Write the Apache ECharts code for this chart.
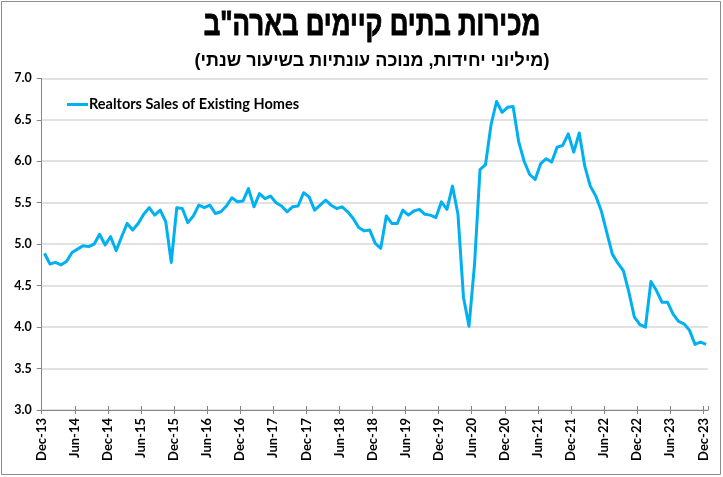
<!DOCTYPE html>
<html>
<head>
<meta charset="utf-8">
<script src="https://cdn.jsdelivr.net/npm/echarts@6/dist/echarts.min.js"></script>
<style>
html,body{margin:0;padding:0;background:#fff;}
#chart{width:723px;height:477px;}
</style>
</head>
<body>
<div id="chart"></div>
<script>
// Monthly, Dec-13 .. Dec-23 (millions, SAAR)
const startMonth = 'Dec-13';
const salesValues = [
  4.89,
  4.76,4.78,4.75,4.79,4.90,4.94,4.98,4.97,5.00,5.12,4.99,5.09,
  4.92,5.09,5.25,5.17,5.25,5.36,5.44,5.35,5.41,5.27,4.78,5.44,
  5.43,5.26,5.34,5.47,5.44,5.47,5.37,5.39,5.46,5.56,5.51,5.52,
  5.67,5.45,5.61,5.55,5.58,5.50,5.46,5.39,5.45,5.46,5.62,5.57,
  5.41,5.47,5.53,5.47,5.43,5.45,5.39,5.31,5.20,5.16,5.17,5.01,
  4.95,5.34,5.25,5.25,5.41,5.35,5.40,5.42,5.36,5.35,5.32,5.51,
  5.42,5.70,5.36,4.36,4.01,4.75,5.90,5.96,6.44,6.72,6.59,6.65,
  6.66,6.24,6.00,5.84,5.78,5.97,6.03,5.99,6.17,6.19,6.33,6.11,
  6.34,5.94,5.70,5.58,5.40,5.14,4.88,4.77,4.68,4.42,4.12,4.03,
  4.00,4.55,4.44,4.30,4.30,4.16,4.07,4.04,3.96,3.79,3.82,3.79
];
const tickLabels = ['Dec-13','Jun-14','Dec-14','Jun-15','Dec-15','Jun-16','Dec-16','Jun-17','Dec-17','Jun-18',
  'Dec-18','Jun-19','Dec-19','Jun-20','Dec-20','Jun-21','Dec-21','Jun-22','Dec-22','Jun-23','Dec-23'];
const seriesName = 'Realtors Sales of Existing Homes';
const titleText = 'מכירות בתים קיימים בארה"ב';
const subtitleText = '(מיליוני יחידות, מנוכה עונתיות בשיעור שנתי)';

// each monthly point sits mid-month (index + 0.5)
const seriesData = salesValues.map((v, i) => [i + 0.5, v]);

const chart = echarts.init(document.getElementById('chart'), null, {renderer: 'canvas'});
const fontLatin = 'Lato, "Open Sans", "Liberation Sans", sans-serif';
const fontHeb = '"Liberation Sans", Arial, "DejaVu Sans", sans-serif';

const xCommon = {
  type: 'value', min: 0, max: 120.85, interval: 6,
  splitLine: {show: false}
};

chart.setOption({
  animation: false,
  backgroundColor: '#fff',
  graphic: [
    {
      type: 'rect', z: -1,
      shape: {x: 1.5, y: 1.5, width: 719, height: 473},
      style: {fill: 'none', stroke: '#8c8c8c', lineWidth: 1}
    },
    {
      type: 'text', x: 372, y: 25, scaleX: 0.74,
      style: {text: titleText, fontFamily: fontHeb, fontWeight: 'bold', fontSize: 35,
              fill: '#000', stroke: '#000', lineWidth: 0.9,
              textAlign: 'center', textVerticalAlign: 'middle'}
    },
    {
      type: 'text', x: 372, y: 61,
      style: {text: subtitleText, fontFamily: fontHeb, fontWeight: 'bold', fontSize: 18,
              fill: '#000', textAlign: 'center', textVerticalAlign: 'middle'}
    }
  ],
  legend: {
    left: 62, top: 92,
    icon: 'rect', itemWidth: 21, itemHeight: 3, itemGap: 4,
    textStyle: {fontFamily: fontLatin, fontWeight: 'bold', fontSize: 14.5, color: '#000', padding: [0,0,0,-4]},
    data: [seriesName]
  },
  grid: {left: 41.7, right: 15, top: 78.3, bottom: 67, containLabel: false},
  xAxis: [
    Object.assign({}, xCommon, {
      position: 'bottom',
      axisLine: {show: true, lineStyle: {color: '#868686', width: 1}},
      axisTick: {show: true, inside: false, length: 4, lineStyle: {color: '#868686'}},
      axisLabel: {
        rotate: 90, margin: 8,
        fontFamily: fontLatin, fontWeight: 'bold', fontSize: 13, color: '#000',
        showMaxLabel: false,
        formatter: v => (Math.abs(v % 6) < 1e-6 ? (tickLabels[Math.round(v / 6)] || '') : '')
      }
    }),
    Object.assign({}, xCommon, {
      position: 'bottom',
      axisLine: {show: false},
      axisTick: {show: true, inside: true, length: 4, lineStyle: {color: '#868686'}},
      axisLabel: {show: false}
    })
  ],
  yAxis: {
    type: 'value', min: 3, max: 7, interval: 0.5,
    axisLine: {show: true, lineStyle: {color: '#868686', width: 1}},
    axisTick: {show: true, inside: false, length: 5, lineStyle: {color: '#868686'}},
    axisLabel: {
      margin: 10, fontFamily: fontLatin, fontWeight: 'bold', fontSize: 12.5, color: '#000',
      formatter: v => v.toFixed(1)
    },
    splitLine: {show: true, lineStyle: {color: '#d9d9d9', width: 1.5}}
  },
  series: [{
    name: seriesName,
    type: 'line',
    xAxisIndex: 0,
    data: seriesData,
    showSymbol: false,
    symbol: 'none',
    lineStyle: {color: '#00b0f0', width: 3, join: 'round'},
    itemStyle: {color: '#00b0f0'},
    clip: false
  }]
});
</script>
</body>
</html>
